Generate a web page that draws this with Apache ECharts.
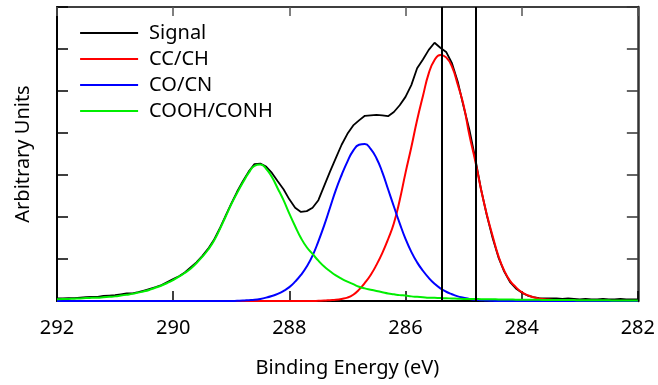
<!DOCTYPE html>
<html>
<head>
<meta charset="utf-8">
<title>C 1s</title>
<script src="https://cdn.jsdelivr.net/npm/echarts@6/dist/echarts.min.js"></script>
<style>
  html, body { margin: 0; padding: 0; background: #fff; }
  #chart { width: 658px; height: 385px; }
</style>
</head>
<body>
<div id="chart"></div>
<script>
// binding energy grid (eV), 292 -> 282
const energy = [
  292.0, 291.9, 291.8, 291.7, 291.6, 291.5, 291.4, 291.3, 291.2, 291.1,
  291.0, 290.9, 290.8, 290.7, 290.6, 290.5, 290.4, 290.3, 290.2, 290.1,
  290.0, 289.9, 289.8, 289.7, 289.6, 289.5, 289.4, 289.3, 289.2, 289.1,
  289.0, 288.9, 288.8, 288.7, 288.6, 288.5, 288.4, 288.3, 288.2, 288.1,
  288.0, 287.9, 287.8, 287.7, 287.6, 287.5, 287.4, 287.3, 287.2, 287.1,
  287.0, 286.9, 286.8, 286.7, 286.6, 286.5, 286.4, 286.3, 286.2, 286.1,
  286.0, 285.9, 285.8, 285.7, 285.6, 285.5, 285.4, 285.3, 285.2, 285.1,
  285.0, 284.9, 284.8, 284.7, 284.6, 284.5, 284.4, 284.3, 284.2, 284.1,
  284.0, 283.9, 283.8, 283.7, 283.6, 283.5, 283.4, 283.3, 283.2, 283.1,
  283.0, 282.9, 282.8, 282.7, 282.6, 282.5, 282.4, 282.3, 282.2, 282.1,
  282.0
];

const signal = [
  0.06, 0.06, 0.07, 0.07, 0.08, 0.09, 0.10, 0.10, 0.12, 0.13,
  0.14, 0.16, 0.18, 0.18, 0.21, 0.25, 0.29, 0.33, 0.38, 0.45,
  0.52, 0.59, 0.68, 0.80, 0.92, 1.07, 1.24, 1.45, 1.72, 2.02,
  2.32, 2.60, 2.85, 3.08, 3.26, 3.27, 3.20, 3.05, 2.85, 2.66,
  2.42, 2.22, 2.12, 2.14, 2.22, 2.40, 2.74, 3.08, 3.40, 3.72,
  3.98, 4.18, 4.30, 4.41, 4.42, 4.43, 4.42, 4.40, 4.50, 4.66,
  4.86, 5.14, 5.54, 5.75, 5.98, 6.15, 6.03, 5.93, 5.66, 5.22,
  4.63, 4.08, 3.40, 2.66, 2.04, 1.50, 1.04, 0.70, 0.45, 0.30,
  0.20, 0.13, 0.09, 0.07, 0.06, 0.06, 0.06, 0.05, 0.06, 0.05,
  0.04, 0.05, 0.04, 0.04, 0.05, 0.04, 0.04, 0.05, 0.04, 0.04,
  0.04
];

const ccch = [
  0, 0, 0, 0, 0, 0, 0, 0, 0, 0,
  0, 0, 0, 0, 0, 0, 0, 0, 0, 0,
  0, 0, 0, 0, 0, 0, 0, 0, 0, 0,
  0, 0, 0, 0, 0, 0, 0, 0, 0, 0,
  0, 0, 0, 0, 0, 0.005, 0.01, 0.02, 0.03, 0.05,
  0.08, 0.15, 0.27, 0.43, 0.62, 0.86, 1.14, 1.47, 1.85, 2.40,
  3.05, 3.66, 4.31, 4.88, 5.42, 5.74, 5.86, 5.80, 5.58, 5.15,
  4.66, 3.95, 3.34, 2.66, 2.06, 1.55, 1.07, 0.72, 0.48, 0.33,
  0.21, 0.14, 0.09, 0.06, 0.04, 0.03, 0.02, 0.01, 0.01, 0.005,
  0, 0, 0, 0, 0, 0, 0, 0, 0, 0,
  0
];

const cocn = [
  0, 0, 0, 0, 0, 0, 0, 0, 0, 0,
  0, 0, 0, 0, 0, 0, 0, 0, 0, 0,
  0, 0, 0, 0, 0, 0, 0, 0, 0, 0,
  0, 0.005, 0.01, 0.02, 0.03, 0.05, 0.08, 0.12, 0.17, 0.24,
  0.33, 0.46, 0.62, 0.82, 1.08, 1.42, 1.80, 2.22, 2.64, 3.00,
  3.32, 3.58, 3.72, 3.74, 3.62, 3.40, 3.07, 2.66, 2.25, 1.85,
  1.48, 1.17, 0.92, 0.72, 0.55, 0.41, 0.30, 0.22, 0.16, 0.11,
  0.08, 0.05, 0.03, 0.02, 0.01, 0.005, 0, 0, 0, 0,
  0, 0, 0, 0, 0, 0, 0, 0, 0, 0,
  0, 0, 0, 0, 0, 0, 0, 0, 0, 0,
  0
];

const coohconh = [
  0.04, 0.045, 0.05, 0.055, 0.06, 0.07, 0.075, 0.08, 0.09, 0.10,
  0.11, 0.13, 0.15, 0.17, 0.20, 0.23, 0.27, 0.32, 0.37, 0.43,
  0.50, 0.58, 0.67, 0.77, 0.90, 1.05, 1.22, 1.43, 1.70, 2.00,
  2.30, 2.57, 2.82, 3.05, 3.22, 3.25, 3.15, 2.95, 2.68, 2.40,
  2.08, 1.78, 1.50, 1.28, 1.12, 0.96, 0.82, 0.71, 0.61, 0.53,
  0.46, 0.40, 0.34, 0.30, 0.27, 0.24, 0.21, 0.18, 0.16, 0.14,
  0.13, 0.11, 0.10, 0.09, 0.08, 0.075, 0.07, 0.065, 0.06, 0.055,
  0.05, 0.048, 0.046, 0.044, 0.042, 0.04, 0.038, 0.036, 0.034, 0.032,
  0.03, 0.03, 0.028, 0.027, 0.026, 0.025, 0.024, 0.023, 0.022, 0.021,
  0.02, 0.02, 0.018, 0.017, 0.016, 0.015, 0.014, 0.013, 0.012, 0.011,
  0.01
];

// positions of the two vertical markers (eV)
const markers = [285.38, 284.79];

const xTicks = { min: 282, max: 292, interval: 2 };

const pairs = vals => energy.map((e, i) => [e, vals[i]]);

const chart = echarts.init(document.getElementById('chart'));

const font = 'Noto Sans';

function curve(name, vals, color, width) {
  return {
    name: name,
    type: 'line',
    data: pairs(vals),
    symbol: 'none',
    smooth: name !== 'Signal',
    lineStyle: { color: color, width: width },
    itemStyle: { color: color },
    animation: false
  };
}

const series = [
  curve('Signal', signal, '#000000', 1.8),
  curve('CC/CH', ccch, '#ff0000', 2),
  curve('CO/CN', cocn, '#0000ff', 2),
  curve('COOH/CONH', coohconh, '#00ee00', 2)
];
series[3].markLine = {
  silent: true,
  symbol: ['none', 'none'],
  label: { show: false },
  lineStyle: { color: '#000', width: 2, type: 'solid' },
  data: markers.map(v => ({ xAxis: v })),
  animation: false
};

chart.setOption({
  backgroundColor: '#fff',
  animation: false,
  grid: { left: 57, right: 20, top: 7, bottom: 84 },
  legend: {
    orient: 'vertical',
    left: 74,
    top: 18,
    itemWidth: 58,
    itemHeight: 14,
    itemGap: 6,
    itemStyle: { opacity: 0 },
    lineStyle: { width: 2.2 },
    data: ['Signal', 'CC/CH', 'CO/CN', 'COOH/CONH'],
    textStyle: { fontFamily: font, fontSize: 20, color: '#000', padding: [0, 0, 0, 6] }
  },
  xAxis: [
    {
      type: 'value',
      inverse: true,
      min: xTicks.min,
      max: xTicks.max,
      interval: xTicks.interval,
      name: 'Binding Energy (eV)',
      nameLocation: 'middle',
      nameGap: 57,
      nameTextStyle: { fontFamily: font, fontSize: 20, color: '#000' },
      axisLine: { onZero: false, lineStyle: { color: '#000', width: 2 } },
      axisTick: { inside: true, length: 10, lineStyle: { color: '#000', width: 1.5 } },
      axisLabel: { fontFamily: font, fontSize: 20, color: '#000', margin: 17 },
      splitLine: { show: false }
    },
    {
      type: 'value',
      position: 'top',
      inverse: true,
      min: xTicks.min,
      max: xTicks.max,
      interval: xTicks.interval,
      axisLine: { onZero: false, lineStyle: { color: '#000', width: 1.5 } },
      axisTick: { inside: true, length: 9, lineStyle: { color: '#555', width: 1.5 } },
      axisLabel: { show: false },
      splitLine: { show: false }
    }
  ],
  yAxis: [
    {
      type: 'value',
      min: 0,
      max: 7,
      interval: 1,
      name: 'Arbitrary Units',
      nameLocation: 'middle',
      nameGap: 24,
      nameTextStyle: { fontFamily: font, fontSize: 20, color: '#000' },
      axisLine: { onZero: false, lineStyle: { color: '#000', width: 2 } },
      axisTick: { inside: true, length: 11, lineStyle: { color: '#000', width: 1.5 } },
      axisLabel: { show: false },
      splitLine: { show: false }
    },
    {
      type: 'value',
      position: 'right',
      min: 0,
      max: 7,
      interval: 1,
      axisLine: { onZero: false, lineStyle: { color: '#333', width: 2.5 } },
      axisTick: { inside: true, length: 11, lineStyle: { color: '#333', width: 1.5 } },
      axisLabel: { show: false },
      splitLine: { show: false }
    }
  ],
  series: series
});
</script>
</body>
</html>
